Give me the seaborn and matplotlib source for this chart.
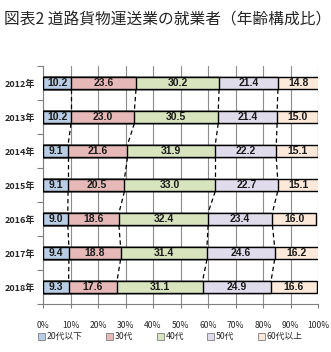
import matplotlib
matplotlib.use("Agg")
import matplotlib.pyplot as plt
from matplotlib.patches import Patch
import numpy as np
import pandas as pd
import seaborn as sns

years = ["2012年", "2013年", "2014年", "2015年", "2016年", "2017年", "2018年"]
groups = ["20代以下", "30代", "40代", "50代", "60代以上"]
age_20s = [10.2, 10.2, 9.1, 9.1, 9.0, 9.4, 9.3]
age_30s = [23.6, 23.0, 21.6, 20.5, 18.6, 18.8, 17.6]
age_40s = [30.2, 30.5, 31.9, 33.0, 32.4, 31.4, 31.1]
age_50s = [21.4, 21.4, 22.2, 22.7, 23.4, 24.6, 24.9]
age_60s = [14.8, 15.0, 15.1, 15.1, 16.0, 16.2, 16.6]
colors = ["#b9cde5", "#e6b9b8", "#d7e4bd", "#e0dcec", "#fde9d9"]

sns.set_theme(style="white")
plt.rcParams["font.family"] = ["Noto Sans CJK JP", "DejaVu Sans"]

series = [age_20s, age_30s, age_40s, age_50s, age_60s]
vals = np.array(series)
cum = np.cumsum(vals, axis=0)

fig = plt.figure(figsize=(3.31, 3.52), dpi=100)
ax = fig.add_axes([0.130, 0.136, 0.831, 0.676])

bar_h = 0.37
# stacked bars: draw cumulative totals from the outermost layer inward
for k in range(len(groups) - 1, -1, -1):
    df = pd.DataFrame({"year": years, "total": cum[k]})
    sns.barplot(data=df, x="total", y="year", orient="h", color=colors[k],
                saturation=1, width=bar_h, edgecolor="black", linewidth=1.0,
                ax=ax, zorder=3)

# value labels centred in each segment
for k in range(len(groups)):
    for i in range(len(years)):
        left = cum[k][i] - vals[k][i]
        ax.text(left + vals[k][i] / 2, i, f"{vals[k][i]:.1f}", ha="center",
                va="center", fontsize=7.5, fontweight="bold",
                family=["Liberation Sans", "DejaVu Sans"], color="#1a1a1a", zorder=5)

# dashed series lines between consecutive bars
for k in range(len(groups) - 1):
    for i in range(len(years) - 1):
        ax.plot([cum[k][i], cum[k][i + 1]], [i + bar_h / 2, i + 1 - bar_h / 2],
                color="black", linestyle=(0, (3.5, 2.5)), linewidth=0.9, zorder=4)

ax.set_xlim(0, 100)
ax.set_ylim(len(years) - 0.5, -0.5)
ax.set_xticks(np.arange(0, 101, 10))
ax.set_xticklabels([f"{t}%" for t in range(0, 101, 10)])
ax.set_yticks(range(len(years)))
ax.set_yticklabels(years)
ax.set_yticks(np.arange(-0.5, len(years), 1), minor=True)
ax.set_xlabel("")
ax.set_ylabel("")

ax.grid(axis="x", color="#8c8c8c", linewidth=0.8, zorder=0)
ax.grid(axis="y", visible=False)
ax.set_axisbelow(True)
for side in ["top", "right"]:
    ax.spines[side].set_visible(False)
for side in ["left", "bottom"]:
    ax.spines[side].set_color("#7f7f7f")
    ax.spines[side].set_linewidth(0.8)

ax.tick_params(axis="x", which="major", direction="out", length=3, width=0.8,
               color="#7f7f7f", labelsize=6.2, pad=9, bottom=True)
ax.tick_params(axis="y", which="major", length=0, labelsize=6.5, pad=6)
ax.tick_params(axis="y", which="minor", direction="out", length=4, width=0.8,
               color="#7f7f7f", left=True)
for lab in ax.get_yticklabels():
    lab.set_fontweight("bold")

handles = [Patch(facecolor=c, edgecolor="#7f7f7f", linewidth=0.6) for c in colors]
fig.legend(handles, groups, loc="center left", bbox_to_anchor=(0.095, 0.043),
           ncol=5, frameon=False, fontsize=6.3, handlelength=0.8, handleheight=0.8,
           handletextpad=0.2, columnspacing=2.7, borderpad=0.2)

fig.text(0.013, 0.943, "図表2 道路貨物運送業の就業者（年齢構成比）", fontsize=11.3,
         ha="left", va="center")

fig.savefig("out.png", dpi=100)
